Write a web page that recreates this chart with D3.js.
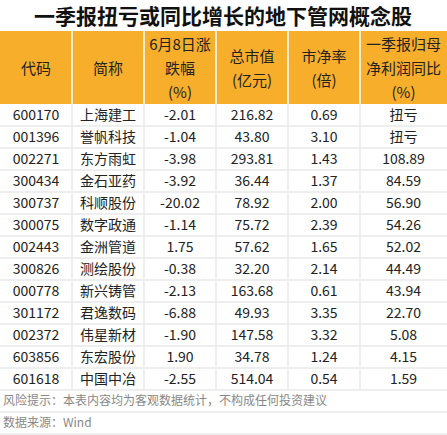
<!DOCTYPE html>
<html><head><meta charset="utf-8">
<script src="https://cdn.jsdelivr.net/npm/d3@7"></script>
<style>body{margin:0;background:#fff}svg{display:block}</style>
</head><body><svg id="c" width="447" height="435"></svg>
<script>
var title = "一季报扭亏或同比增长的地下管网概念股";
var headers = [["代码"], ["简称"], ["6月8日涨", "跌幅", "(%)"], ["总市值", "(亿元)"], ["市净率", "(倍)"], ["一季报归母", "净利润同比", "(%)"]];
var codes = ["600170","001396","002271","300434","300737","300075","002443","300826","000778","301172","002372","603856","601618"];
var names = ["上海建工","誉帆科技","东方雨虹","金石亚药","科顺股份","数字政通","金洲管道","测绘股份","新兴铸管","君逸数码","伟星新材","东宏股份","中国中冶"];
var change = ["-2.01","-1.04","-3.98","-3.92","-20.02","-1.14","1.75","-0.38","-2.13","-6.88","-1.90","1.90","-2.55"];
var mktCap = ["216.82","43.80","293.81","36.44","78.92","75.72","57.62","32.20","163.68","49.93","147.58","34.78","514.04"];
var pb = ["0.69","3.10","1.43","1.37","2.00","2.39","1.65","2.14","0.61","3.35","3.32","1.24","0.54"];
var profit = ["扭亏","扭亏","108.89","84.59","56.90","54.26","52.02","44.49","43.94","22.70","5.08","4.15","1.59"];
var notes = ["风险提示：本表内容均为客观数据统计，不构成任何投资建议", "数据来源：Wind"];

var svg = d3.select("#c");
var font = "'Noto Sans CJK SC', sans-serif";
var colEdges = [0, 72, 144, 216, 288, 360, 447];
var x = d3.scaleOrdinal().domain(d3.range(6)).range(colEdges.slice(0, 6));
var headTop = 31, headBot = 104, rowH = 22;
var y = d3.scaleBand().domain(d3.range(codes.length)).range([headBot, headBot + rowH * codes.length]);

svg.append("text").attr("x", 223).attr("y", 24).attr("text-anchor", "middle")
  .attr("font-family", font).attr("font-weight", "bold").attr("font-size", 21).attr("fill", "#111").text(title);

svg.append("rect").attr("x", 0).attr("y", headTop).attr("width", 447).attr("height", headBot - headTop).attr("fill", "#F7AE2B");

headers.forEach(function (h, i) {
  var cx = (colEdges[i] + colEdges[i + 1]) / 2;
  var mid = (headTop + headBot) / 2;
  h.forEach(function (line, j) {
    svg.append("text").attr("x", cx).attr("y", mid + (j - (h.length - 1) / 2) * 24 + 6)
      .attr("text-anchor", "middle").attr("font-family", font).attr("font-size", 15).attr("fill", "#222").text(line);
  });
});

var cols = [codes, names, change, mktCap, pb, profit];
var rows = svg.selectAll(".row").data(codes).enter().append("g").attr("class", "row")
  .attr("transform", function (d, i) { return "translate(0," + y(i) + ")"; });
rows.append("line").attr("x1", 0).attr("x2", 447).attr("y1", rowH).attr("y2", rowH).attr("stroke", "#ddd");
rows.each(function (d, r) {
  var g = d3.select(this);
  cols.forEach(function (c, i) {
    g.append("text").attr("x", (colEdges[i] + colEdges[i + 1]) / 2).attr("y", rowH / 2 + 5)
      .attr("text-anchor", "middle").attr("font-family", font).attr("font-size", 14).attr("fill", "#222").text(c[r]);
  });
});

// vertical grid lines
var bodyBot = headBot + rowH * codes.length;
colEdges.slice(1, 6).forEach(function (e) {
  svg.append("line").attr("x1", e).attr("x2", e).attr("y1", headTop).attr("y2", bodyBot).attr("stroke", "#fff").attr("stroke-width", 1.5);
  svg.append("line").attr("x1", e).attr("x2", e).attr("y1", headBot).attr("y2", bodyBot).attr("stroke", "#ddd");
});

notes.forEach(function (n, i) {
  svg.append("text").attr("x", 3).attr("y", bodyBot + 15 + i * 22).attr("font-family", font)
    .attr("font-size", 12).attr("fill", "#888").text(n);
  svg.append("line").attr("x1", 0).attr("x2", 447).attr("y1", bodyBot + 22 * (i + 1)).attr("y2", bodyBot + 22 * (i + 1)).attr("stroke", "#ddd");
});
</script></body></html>
